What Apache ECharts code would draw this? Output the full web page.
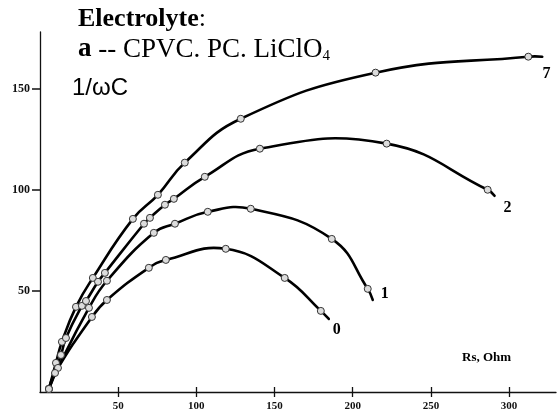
<!DOCTYPE html>
<html><head><meta charset="utf-8">
<script src="https://cdn.jsdelivr.net/npm/echarts@6/dist/echarts.min.js"></script>
<style>html,body{margin:0;padding:0;background:#fff}#c{width:558px;height:414px}</style>
</head><body><div id="c"></div>
<script>
// Data (x = Rs, Ohm; y = 1/wC)
const xTicks = [50, 100, 150, 200, 250, 300];
const yTicks = [50, 100, 150];
const curve7 = [[5.7,1.5],[10.2,14.4],[14.0,24.8],[23.0,42.1],[33.8,56.4],[59.4,85.6],[75.4,97.5],[92.6,113.4],[128.4,135.1],[214.6,157.9],[312.3,165.8]];
const curve7End = [321.2,165.8];
const curve2 = [[5.7,1.5],[13.4,18.3],[16.6,26.7],[26.8,42.6],[29.4,45.0],[37.1,54.5],[41.5,58.9],[66.5,83.2],[70.3,86.1],[79.9,92.6],[85.6,95.5],[105.4,106.4],[140.6,120.3],[221.7,122.8],[286.3,100.0]];
const curve2End = [290.7,97.0];
const curve1 = [[5.7,1.5],[11.5,11.9],[31.3,41.6],[42.8,55.0],[72.8,78.7],[86.3,83.2],[107.3,89.1],[134.8,90.6],[186.6,75.7],[209.6,51.0]];
const curve1End = [212.8,45.5];
const curve0 = [[5.7,1.5],[9.6,9.4],[33.2,37.1],[42.8,45.5],[69.6,61.4],[80.5,65.3],[118.8,70.8],[156.5,56.4],[179.6,40.1]];
const curve0End = [184.7,36.1];
const curveNames = ['7', '2', '1', '0'];
const curveLabelAt = [[324,157.4],[299,91],[220.4,48.5],[189.8,30.7]];

const chart = echarts.init(document.getElementById('c'));
const serif = "'Liberation Serif', 'DejaVu Serif', serif";

function lineSeries(name, pts, end) {
  const all = pts.concat([end]);
  return {
    name: name, type: 'custom', data: all, z: 2, animation: false, silent: true,
    encode: {x: 0, y: 1},
    renderItem: function (params, api) {
      if (params.dataIndex !== 0) return null;
      const p = all.map(d => api.coord(d));
      return {type: 'polyline', shape: {points: p, smooth: 0.45},
        style: {stroke: '#000', lineWidth: 2.6, fill: null, lineJoin: 'round', lineCap: 'round'}};
    }
  };
}
function markerSeries(name, pts) {
  return {
    name: name + ' pts', type: 'scatter', data: pts, z: 4, animation: false,
    symbol: 'circle', symbolSize: 7,
    itemStyle: {color: '#dcdcdc', borderColor: '#333', borderWidth: 1, opacity: 1}
  };
}
const curves = [[curve7, curve7End], [curve2, curve2End], [curve1, curve1End], [curve0, curve0End]];
const series = [];
curves.forEach((c, i) => series.push(lineSeries(curveNames[i], c[0], c[1])));
curves.forEach((c, i) => series.push(markerSeries(curveNames[i], c[0])));

const axisLine = {show: true, lineStyle: {color: '#111', width: 1.3}};
chart.setOption({
  animation: false,
  grid: {left: 40, right: 2, top: 32, bottom: 22, containLabel: false},
  xAxis: [{
    type: 'value', min: 0, max: 330, interval: 50,
    axisLine: axisLine, splitLine: {show: false},
    axisTick: {show: true, length: 5, inside: false, customValues: xTicks, lineStyle: {color: '#111', width: 1.3}},
    axisLabel: {customValues: xTicks, margin: 9, fontFamily: serif, fontWeight: 'bold', fontSize: 11, color: '#111'}
  }, {
    type: 'value', min: 0, max: 330, interval: 50, position: 'bottom',
    axisLine: {show: false}, splitLine: {show: false}, axisLabel: {show: false},
    axisTick: {show: true, length: 5, inside: true, customValues: xTicks, lineStyle: {color: '#111', width: 1.3}}
  }],
  yAxis: {
    type: 'value', min: 0, max: 178, interval: 50,
    axisLine: axisLine, splitLine: {show: false},
    axisTick: {show: true, length: 8, customValues: yTicks, lineStyle: {color: '#111', width: 1.5}},
    axisLabel: {customValues: yTicks, margin: 10, fontFamily: serif, fontWeight: 'bold', fontSize: 12, color: '#111'}
  },
  series: series
});

const g = [
  {type: 'text', left: 78, top: 6, style: {text: '{b|Electrolyte}:', fontFamily: serif, fontSize: 26, fill: '#000',
    rich: {b: {fontFamily: serif, fontSize: 26, fontWeight: 'bold', fill: '#000'}}}},
  {type: 'text', left: 78, top: 36, style: {text: '{b|a} -- CPVC. PC. LiClO{s|4}', fontFamily: serif, fontSize: 27, fill: '#000',
    rich: {b: {fontFamily: serif, fontSize: 27, fontWeight: 'bold', fill: '#000'}, s: {fontFamily: serif, fontSize: 15, fill: '#000', padding: [14, 0, 0, 0]}}}},
  {type: 'text', left: 72, top: 76, style: {text: '1/\u03c9C', fontFamily: "'Liberation Sans', Arial, sans-serif", fontSize: 24, fill: '#000'}},
  {type: 'text', left: 462, top: 351, style: {text: 'Rs, Ohm', fontFamily: serif, fontSize: 13, fontWeight: 'bold', fill: '#000'}}
];
curveNames.forEach((n, i) => {
  const p = chart.convertToPixel({gridIndex: 0}, curveLabelAt[i]);
  g.push({type: 'text', x: p[0], y: p[1], style: {text: n, fontFamily: serif, fontSize: 16, fontWeight: 'bold', fill: '#000', align: 'center', verticalAlign: 'middle'}});
});
chart.setOption({graphic: g});
</script></body></html>
